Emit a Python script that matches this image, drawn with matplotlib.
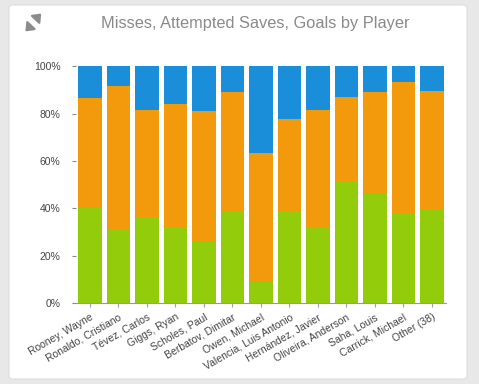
import numpy as np
import matplotlib.pyplot as plt
from matplotlib.patches import FancyBboxPatch, FancyArrowPatch
from matplotlib.ticker import PercentFormatter

plt.rcParams['font.family'] = ['Liberation Sans', 'DejaVu Sans']

players = ["Rooney, Wayne", "Ronaldo, Cristiano", "Tévez, Carlos", "Giggs, Ryan",
           "Scholes, Paul", "Berbatov, Dimitar", "Owen, Michael",
           "Valencia, Luis Antonio", "Hernández, Javier", "Oliveira, Anderson",
           "Saha, Louis", "Carrick, Michael", "Other (38)"]
misses = [40.0, 31.3, 36.5, 31.6, 25.9, 38.6, 8.7, 38.6, 31.6, 51.6, 46.0, 38.2, 39.9]
saves = [46.6, 60.6, 45.1, 52.5, 55.4, 50.5, 54.9, 39.2, 50.0, 35.6, 43.1, 55.1, 49.7]
goals = [13.4, 8.1, 18.4, 15.9, 18.7, 10.9, 36.4, 22.2, 18.4, 12.8, 10.9, 6.7, 10.4]

c_green = "#92cc0a"
c_orange = "#f29a0c"
c_blue = "#1a8ed8"

fig = plt.figure(figsize=(4.79, 3.84), dpi=100)
fig.patch.set_facecolor("#e8e8e8")
card = FancyBboxPatch((9 / 479, 5 / 384), 458 / 479, 374 / 384,
                      boxstyle="round,pad=0,rounding_size=0.008",
                      transform=fig.transFigure, facecolor="white",
                      edgecolor="#dddddd", linewidth=0.8, zorder=-5)
fig.patches.append(card)

fig.text(0.532, 0.94, "Misses, Attempted Saves, Goals by Player",
         ha="center", va="center", fontsize=11.8, color="#8a8a8a")

# expand icon (two diagonal arrows pointing outwards)
for (x0, y0, x1, y1) in [(0.062, 0.930, 0.049, 0.913), (0.077, 0.953, 0.090, 0.970)]:
    fig.patches.append(FancyArrowPatch(
        (x0, y0), (x1, y1), transform=fig.transFigure,
        arrowstyle="-|>,head_length=0.5,head_width=0.4",
        mutation_scale=9, color="#8c8c8c", linewidth=1.6, zorder=2))

ax = fig.add_axes([0.158, 0.211, 0.7735, 0.616])
x = np.arange(len(players))
w = 0.82
m = np.array(misses)
s = np.array(saves)
g = np.array(goals)
ax.bar(x, m, w, color=c_green, label="Misses")
ax.bar(x, s, w, bottom=m, color=c_orange, label="Attempted Saves")
ax.bar(x, g, w, bottom=m + s, color=c_blue, label="Goals")

ax.set_xlim(-0.5, len(players) - 0.5)
ax.set_ylim(0, 100)
ax.set_yticks([0, 20, 40, 60, 80, 100])
ax.yaxis.set_major_formatter(PercentFormatter(decimals=0))
ax.set_xticks(x)
ax.set_xticklabels(players, rotation=30, ha="right", rotation_mode="anchor")
ax.tick_params(axis="x", labelsize=7.5, colors="#444444", length=3, color="#9a9ad0")
ax.tick_params(axis="y", labelsize=7.5, colors="#444444", length=3, color="#888888", pad=8)
for sp in ["top", "right", "left"]:
    ax.spines[sp].set_visible(False)
ax.spines["bottom"].set_color("#999999")
ax.set_facecolor("white")

fig.savefig("out.png", dpi=100, facecolor=fig.get_facecolor())
